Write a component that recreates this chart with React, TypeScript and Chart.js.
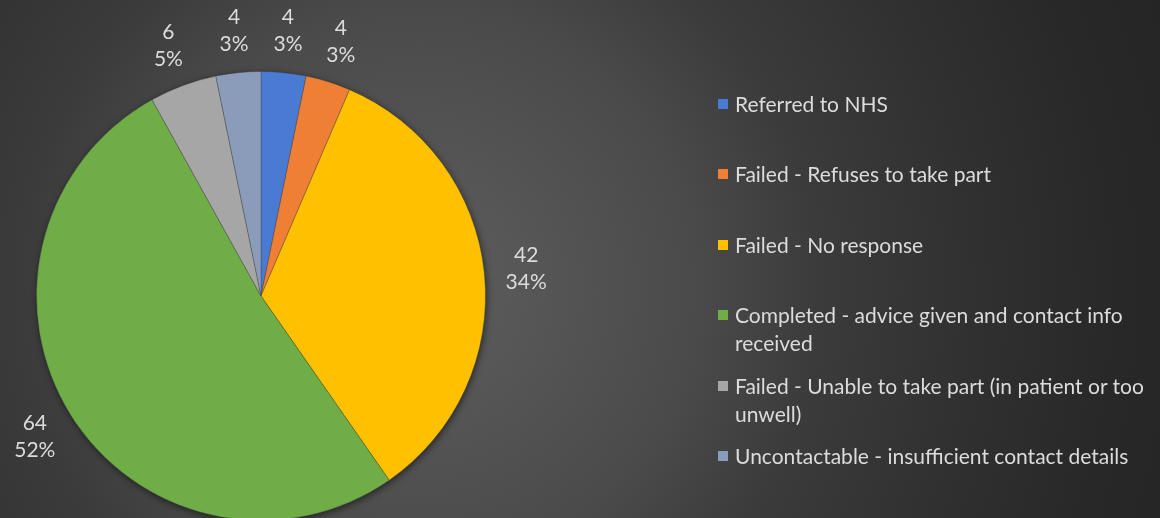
import React, { useEffect, useRef } from "react";
import { Chart, registerables } from "chart.js";

Chart.register(...registerables);

const categories = [
  "Referred to NHS",
  "Failed - Refuses to take part",
  "Failed - No response",
  "Completed - advice given and contact info received",
  "Failed - Unable to take part (in patient or too unwell)",
  "Uncontactable - insufficient contact details",
];
const values = [4, 4, 42, 64, 6, 4];
const colors = ["#4a7bd3", "#ef7f35", "#ffc000", "#6fad46", "#a6a6a6", "#8a9cb9"];

const FONT = "Lato, 'Open Sans', sans-serif";
const TEXT_COLOR = "#dcdcdc";

const shadowPlugin = {
  id: "pieShadow",
  beforeDatasetsDraw(chart: any) {
    const meta = chart.getDatasetMeta(0);
    const arc = meta.data[0];
    if (!arc) return;
    const { x, y, outerRadius } = arc.getProps(["x", "y", "outerRadius"], true);
    const ctx = chart.ctx;
    ctx.save();
    ctx.shadowColor = "rgba(0,0,0,0.55)";
    ctx.shadowBlur = 7;
    ctx.shadowOffsetX = 1;
    ctx.shadowOffsetY = 2;
    ctx.fillStyle = "#3a3a3a";
    ctx.beginPath();
    ctx.arc(x, y, outerRadius, 0, Math.PI * 2);
    ctx.fill();
    ctx.restore();
  },
};

const labelPlugin = {
  id: "outsideLabels",
  afterDatasetsDraw(chart: any) {
    const meta = chart.getDatasetMeta(0);
    const data = chart.data.datasets[0].data as number[];
    const total = data.reduce((a, b) => a + b, 0);
    const ctx = chart.ctx;
    ctx.save();
    ctx.font = `21px ${FONT}`;
    ctx.fillStyle = TEXT_COLOR;
    ctx.textAlign = "center";
    ctx.textBaseline = "middle";
    meta.data.forEach((el: any, i: number) => {
      const { x, y, startAngle, endAngle, outerRadius } = el.getProps(
        ["x", "y", "startAngle", "endAngle", "outerRadius"],
        true
      );
      const mid = (startAngle + endAngle) / 2;
      const r = outerRadius + 42;
      const lx = x + Math.cos(mid) * r;
      const ly = y + Math.sin(mid) * r;
      const pct = Math.round((data[i] / total) * 100) + "%";
      ctx.fillText(String(data[i]), lx, ly - 13.5);
      ctx.fillText(pct, lx, ly + 13.5);
    });
    ctx.restore();
  },
};

export default function App() {
  const canvasRef = useRef<HTMLCanvasElement | null>(null);

  useEffect(() => {
    if (!canvasRef.current) return;
    const chart = new Chart(canvasRef.current, {
      type: "pie",
      data: {
        labels: categories,
        datasets: [
          {
            data: values,
            backgroundColor: colors,
            borderColor: "rgba(60,60,60,0.35)",
            borderWidth: 1,
          },
        ],
      },
      options: {
        responsive: false,
        animation: false,
        layout: { padding: { left: 36, top: 71, right: 74, bottom: 79 } },
        plugins: {
          legend: { display: false },
          tooltip: { enabled: false },
        },
      },
      plugins: [shadowPlugin, labelPlugin],
    });
    return () => chart.destroy();
  }, []);

  return (
    <div
      style={{
        position: "fixed",
        left: 0,
        top: 0,
        width: 1160,
        height: 518,
        overflow: "hidden",
        background:
          "radial-gradient(circle at 420px 290px, #5c5c5c 0px, #575757 100px, #4a4a4a 280px, #3b3b3b 400px, #303030 560px, #282828 700px, #252525 800px)",
        fontFamily: FONT,
      }}
    >
      <canvas
        ref={canvasRef}
        width={560}
        height={600}
        style={{ position: "absolute", left: 0, top: 0, width: 560, height: 600 }}
      />
      {categories.map((c, i) => (
        <div
          key={c}
          style={{
            position: "absolute",
            left: 718,
            top: 90 + i * 70.4,
            width: 442,
            display: "flex",
            alignItems: "flex-start",
            color: TEXT_COLOR,
            fontSize: 21,
            lineHeight: "28px",
          }}
        >
          <span
            style={{
              display: "inline-block",
              width: 10,
              height: 10,
              marginTop: 9,
              marginRight: 7,
              background: colors[i],
              flex: "0 0 auto",
            }}
          />
          <span style={{ flex: "1 1 auto" }}>{c}</span>
        </div>
      ))}
    </div>
  );
}
